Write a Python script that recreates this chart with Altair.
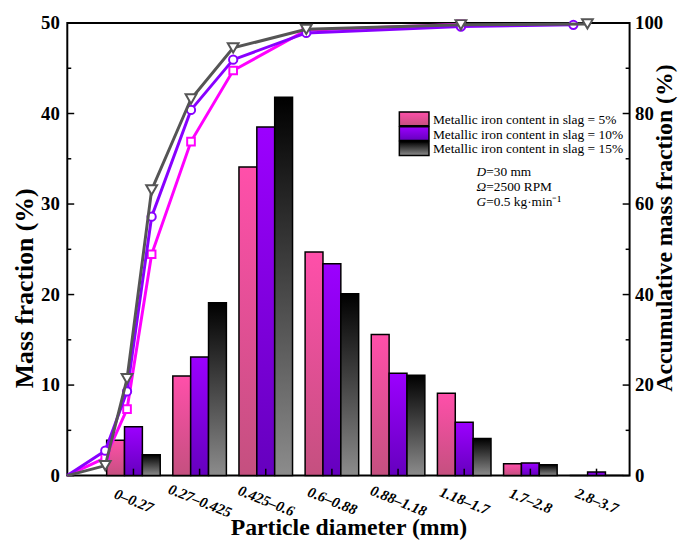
import altair as alt
import pandas as pd

# ---------------- data ----------------
categories = ["0–0.27", "0.27–0.425", "0.425–0.6", "0.6–0.88",
              "0.88–1.18", "1.18–1.7", "1.7–2.8", "2.8–3.7"]
series_names = ["Metallic iron content in slag = 5%",
                "Metallic iron content in slag = 10%",
                "Metallic iron content in slag = 15%"]

mass_5 = [3.9, 11.0, 34.1, 24.7, 15.6, 9.1, 1.3, 0.0]
mass_10 = [5.4, 13.1, 38.5, 23.4, 11.3, 5.9, 1.4, 0.4]
mass_15 = [2.3, 19.1, 41.8, 20.1, 11.1, 4.1, 1.2, 0.0]

cum_d_5 = [0, 0.27, 0.425, 0.6, 0.88, 1.18, 1.7, 2.8]
cum_5 = [0, 3.9, 14.7, 48.9, 73.8, 89.5, 98.4, 99.7]
cum_d_10 = [0, 0.27, 0.425, 0.6, 0.88, 1.18, 1.7, 2.8, 3.6]
cum_10 = [0, 5.5, 18.6, 57.2, 80.8, 91.9, 97.8, 99.2, 99.6]
cum_d_15 = [0, 0.27, 0.425, 0.6, 0.88, 1.18, 1.7, 2.8, 3.7]
cum_15 = [0, 2.2, 21.4, 63.1, 83.2, 94.5, 98.6, 99.6, 99.8]

left_ticks_major = [0, 10, 20, 30, 40, 50]
left_ticks_minor = [5, 15, 25, 35, 45]
right_ticks_major = [0, 20, 40, 60, 80, 100]
right_ticks_minor = [10, 30, 50, 70, 90]

params = [("D", "=30 mm"), ("Ω", "=2500 RPM"), ("G", "=0.5 kg·min⁻¹")]

# ---------------- styling ----------------
W, H = 569, 458
FONT = "Liberation Serif"
bar_grads = [
    alt.Gradient(gradient="linear", x1=0, x2=0, y1=0, y2=1,
                 stops=[alt.GradientStop(color="#FF4FAA", offset=0),
                        alt.GradientStop(color="#C4507F", offset=1)]),
    alt.Gradient(gradient="linear", x1=0, x2=0, y1=0, y2=1,
                 stops=[alt.GradientStop(color="#9C00FF", offset=0),
                        alt.GradientStop(color="#6500BE", offset=1)]),
    alt.Gradient(gradient="linear", x1=0, x2=0, y1=0, y2=1,
                 stops=[alt.GradientStop(color="#000000", offset=0),
                        alt.GradientStop(color="#8C8C8C", offset=1)]),
]
line_colors = ["#FF00FF", "#8800FF", "#555555"]
shapes = ["square", "circle", "triangle-down"]
sizes = [60, 70, 120]

# ---------------- tables ----------------
rows = []
for k, vals in enumerate([mass_5, mass_10, mass_15]):
    for i, v in enumerate(vals):
        rows.append({"idx": i + 1, "k": k, "v": v})
bars_df = pd.DataFrame(rows)

cum_tables = []
for k, (dd, cc) in enumerate([(cum_d_5, cum_5), (cum_d_10, cum_10), (cum_d_15, cum_15)]):
    cum_tables.append(pd.DataFrame({"d": dd, "c": cc}))

label_expr = "[" + ",".join("'" + c + "'" for c in categories) + "][datum.value - 1]"

xs = alt.Scale(domain=[0, 8.5], nice=False, zero=False)
ys = alt.Scale(domain=[0, 50], nice=False)
xs2 = alt.Scale(domain=[0, 4], nice=False)
ys2 = alt.Scale(domain=[0, 100], nice=False)

x_axis = alt.Axis(values=list(range(1, 9)), labelExpr=label_expr, title="Particle diameter (mm)",
                  tickSize=0, domain=False, grid=False, labelAngle=22, labelAlign="center",
                  labelBaseline="middle", labelPadding=25, labelFontStyle="italic",
                  labelFontSize=15, labelOverlap=False, labelFlush=False, titlePadding=-4,
                  titleFontSize=24)
y_axis = alt.Axis(values=left_ticks_major, title="Mass fraction (%)", tickSize=0, domain=False,
                  grid=False, labelPadding=8, titleBaseline="middle", titleX=-43, titleY=268,
                  titleFontSize=26)
y2_axis = alt.Axis(orient="right", values=right_ticks_major, title="Accumulative mass fraction (%)",
                   tickSize=0, domain=False, grid=False, labelPadding=5,
                   titleAngle=270, titleBaseline="middle", titleX=35, titleY=207, titleFontSize=24)

# ---------------- bars layer ----------------
bar_layers = []
for k in range(3):
    bar_layers.append(
        alt.Chart(bars_df)
        .transform_filter(alt.datum.k == k)
        .transform_calculate(x0=f"datum.idx + ({k} - 1) * 0.27 - 0.135",
                             x1=f"datum.idx + ({k} - 1) * 0.27 + 0.135")
        .mark_bar(fill=bar_grads[k], stroke="black", strokeWidth=1.5)
        .encode(x=alt.X("x0:Q", scale=xs, axis=x_axis), x2="x1:Q",
                y=alt.Y("v:Q", scale=ys, axis=y_axis), y2=alt.datum(0))
    )

lt_major = alt.Chart(pd.DataFrame({"v": left_ticks_major})).mark_rule(color="black", strokeWidth=1.5).encode(
    y=alt.Y("v:Q", scale=ys, axis=y_axis), x=alt.value(0), x2=alt.value(7))
lt_minor = alt.Chart(pd.DataFrame({"v": left_ticks_minor})).mark_rule(color="black", strokeWidth=1.5).encode(
    y=alt.Y("v:Q", scale=ys, axis=y_axis), x=alt.value(0), x2=alt.value(4))
bt = alt.Chart(pd.DataFrame({"x0": list(range(1, 9))})).mark_rule(color="black", strokeWidth=1.5).encode(
    x=alt.X("x0:Q", scale=xs, axis=x_axis), y=alt.value(H), y2=alt.value(H - 7))

layer_a = alt.layer(*bar_layers, lt_major, lt_minor, bt)

# ---------------- cumulative curves ----------------
curve_layers = []
for k in range(3):
    base = alt.Chart(cum_tables[k])
    curve_layers.append(
        base.mark_line(color=line_colors[k], strokeWidth=3).encode(
            x=alt.X("d:Q", scale=xs2, axis=None), y=alt.Y("c:Q", scale=ys2, axis=y2_axis)))
    curve_layers.append(
        base.transform_filter(alt.datum.d > 0)
        .mark_point(shape=shapes[k], size=sizes[k], fill="white", fillOpacity=1, filled=False,
                    stroke=line_colors[k], strokeWidth=2, opacity=1)
        .encode(x=alt.X("d:Q", scale=xs2, axis=None), y=alt.Y("c:Q", scale=ys2, axis=y2_axis)))

rt_major = alt.Chart(pd.DataFrame({"c": right_ticks_major})).mark_rule(color="black", strokeWidth=1.5).encode(
    y=alt.Y("c:Q", scale=ys2, axis=y2_axis), x=alt.value(W), x2=alt.value(W - 7))
rt_minor = alt.Chart(pd.DataFrame({"c": right_ticks_minor})).mark_rule(color="black", strokeWidth=1.5).encode(
    y=alt.Y("c:Q", scale=ys2, axis=y2_axis), x=alt.value(W), x2=alt.value(W - 4))

# ---------------- legend ----------------
one = pd.DataFrame({"a": [0]})
legend_layers = []
for k in range(3):
    y0 = 90 + 15 * k
    legend_layers.append(
        alt.Chart(one).mark_rect(fill=bar_grads[k], stroke="black", strokeWidth=1.5).encode(
            x=alt.value(336), x2=alt.value(366), y=alt.value(y0), y2=alt.value(y0 + 14)))
    legend_layers.append(
        alt.Chart(one).mark_text(align="left", baseline="middle", font=FONT, fontSize=13.6,
                                 color="black").encode(
            x=alt.value(370), y=alt.value(y0 + 8), text=alt.value(series_names[k])))
for j, (sym, rest) in enumerate(params):
    yy = 151 + 15 * j
    legend_layers.append(
        alt.Chart(one).mark_text(align="left", baseline="middle", font=FONT, fontSize=13.5,
                                 fontStyle="italic", color="black").encode(
            x=alt.value(414), y=alt.value(yy), text=alt.value(sym)))
    legend_layers.append(
        alt.Chart(one).mark_text(align="left", baseline="middle", font=FONT, fontSize=13.5,
                                 color="black").encode(
            x=alt.value(424), y=alt.value(yy), text=alt.value(rest)))

layer_b = alt.layer(*curve_layers, rt_major, rt_minor, *legend_layers)

chart = (
    alt.layer(layer_a, layer_b)
    .resolve_scale(x="independent", y="independent")
    .properties(width=W, height=H, autosize=alt.AutoSizeParams(type="none"),
                padding={"left": 60, "top": 12, "right": 50, "bottom": 62})
    .configure_view(stroke="black", strokeWidth=2)
    .configure_axis(labelFont=FONT, titleFont=FONT, labelFontWeight="bold", titleFontWeight="bold",
                    labelFontSize=19, titleFontSize=21, labelColor="black", titleColor="black")
)

chart.save("out.html", embed_options={"renderer": "svg", "actions": False})
